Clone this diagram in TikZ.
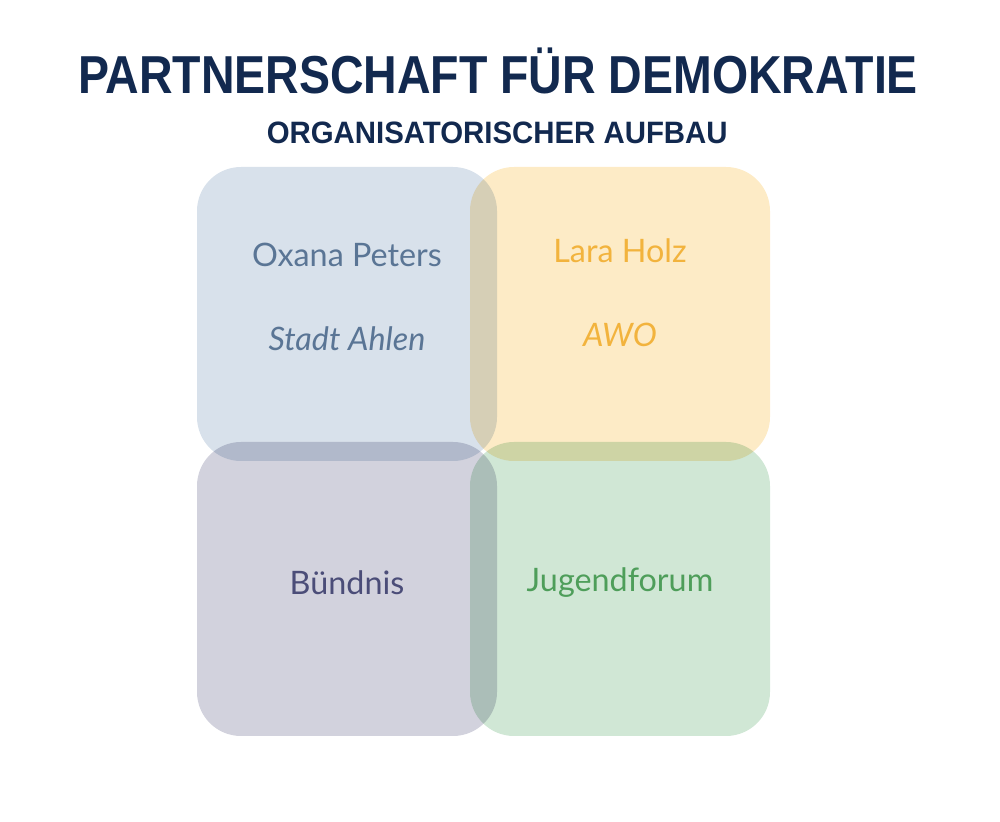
\documentclass[tikz,border=0pt]{standalone}
\usepackage{fontspec}
\setmainfont{Lato}
\newfontfamily\titlefont[FakeStretch=0.87]{Liberation Sans Bold}
\newfontfamily\subfont[FakeStretch=0.95]{Liberation Sans Bold}
\usetikzlibrary{positioning, calc}

\definecolor{navy}{HTML}{12294F}
\definecolor{blueFill}{HTML}{D8E1EB}
\definecolor{blueText}{HTML}{5A7595}
\definecolor{yellowFill}{HTML}{FDEBC6}
\definecolor{yellowText}{HTML}{F2B33D}
\definecolor{greyFill}{HTML}{D2D2DD}
\definecolor{greyText}{HTML}{4B4D78}
\definecolor{greenFill}{HTML}{D0E7D5}
\definecolor{greenText}{HTML}{4E9E5A}

\begin{document}
\begin{tikzpicture}[
        % Define styles for the nodes
        quad_box/.style={rounded corners=1.1cm, minimum width=7.5cm, minimum height=7.35cm, inner sep=0pt, outer sep=0pt},
        name_label/.style={font=\fontsize{23}{27}\selectfont},
        org_label/.style={font=\fontsize{23}{27}\selectfont\itshape},
        title_label/.style={font=\titlefont\fontsize{38}{44}\selectfont, text=navy},
        sub_label/.style={font=\subfont\fontsize{22}{26}\selectfont, text=navy}
    ]
    \useasboundingbox (0,0) rectangle (25,20.525);

    % Headings
    \node (title) [title_label] at (12.45,18.76) {PARTNERSCHAFT FÜR DEMOKRATIE};
    \node (subtitle) [sub_label] at (12.43,17.2) {ORGANISATORISCHER AUFBAU};

    % Four overlapping boxes
    \begin{scope}[blend group=multiply]
        \node (tl) [quad_box, fill=blueFill] at (8.675,12.675) {};
        \node (tr) [quad_box, fill=yellowFill, right=-0.675cm of tl] {};
        \node (bl) [quad_box, fill=greyFill, below=-0.475cm of tl] {};
        \node (br) [quad_box, fill=greenFill, right=-0.675cm of bl] {};
    \end{scope}

    % Texts in the boxes
    \node (oxana) [name_label, text=blueText] at ([yshift=-2.2cm]tl.north) {Oxana Peters};
    \node (stadt) [org_label, text=blueText] at ([yshift=-4.3cm]tl.north) {Stadt Ahlen};
    \node (lara) [name_label, text=yellowText] at ([yshift=-2.1cm]tr.north) {Lara Holz};
    \node (awo) [org_label, text=yellowText] at ([yshift=-4.2cm]tr.north) {AWO};
    \node (buendnis) [name_label, text=greyText] at ([yshift=0.15cm]bl.center) {Bündnis};
    \node (jugend) [name_label, text=greenText] at ([yshift=0.15cm]br.center) {Jugendforum};

\end{tikzpicture}
\end{document}
